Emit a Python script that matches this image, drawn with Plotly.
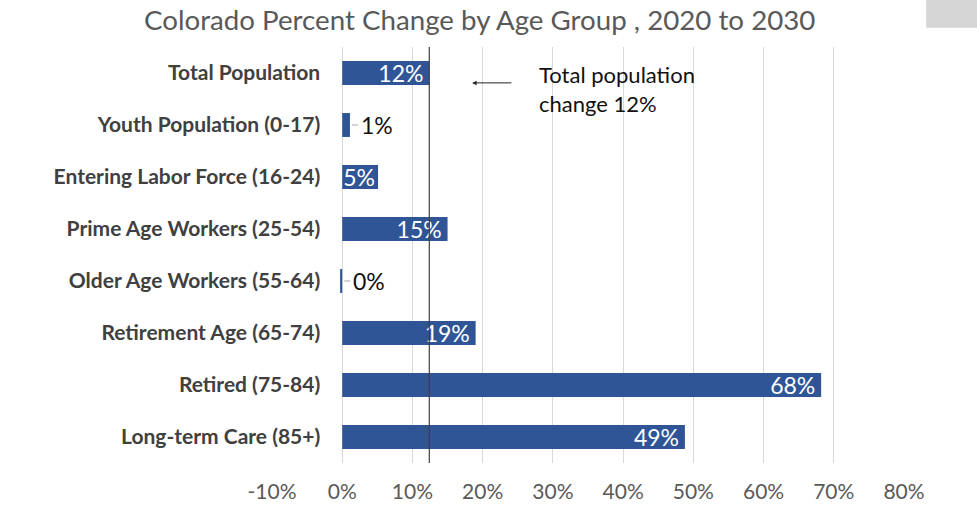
import plotly.graph_objects as go

categories = [
    "Total Population",
    "Youth Population (0-17)",
    "Entering Labor Force (16-24)",
    "Prime Age Workers (25-54)",
    "Older Age Workers (55-64)",
    "Retirement Age (65-74)",
    "Retired (75-84)",
    "Long-term Care (85+)",
]
pct_change = [12.4, 1.1, 5.1, 15.0, -0.3, 19.0, 68.2, 48.8]
label_inside = [True, False, True, True, False, True, True, True]
x_ticks = [-10, 0, 10, 20, 30, 40, 50, 60, 70, 80]
x_tick_labels = [f"{t}%" for t in x_ticks]
total_change = pct_change[0]

bar_color = "#2F5597"
font_family = "Lato, Open Sans, sans-serif"

labels = [f"{round(v)}%" for v in pct_change]

fig = go.Figure()
fig.add_trace(go.Bar(
    x=pct_change,
    y=categories,
    orientation="h",
    marker=dict(color=bar_color, line=dict(width=0)),
    width=0.46,
    text=[(l + "\u2009" if v > 10 else l) if ins else ""
          for l, v, ins in zip(labels, pct_change, label_inside)],
    textposition=["inside" if ins else "none" for ins in label_inside],
    insidetextanchor="end",
    insidetextfont=dict(color="white", size=23, family=font_family),
    textangle=0,
    constraintext="none",
    cliponaxis=False,
    hoverinfo="skip",
))

# outside labels with short leader lines
for cat, v, l, ins in zip(categories, pct_change, labels, label_inside):
    if ins:
        continue
    end = max(v, 0)
    fig.add_shape(type="line", xref="x", yref="y", xsizemode="pixel", xanchor=end,
                  x0=2, x1=8, y0=cat, y1=cat, line=dict(color="#a6a6a6", width=1))
    fig.add_annotation(xref="x", yref="y", x=end, y=cat, xanchor="left", yanchor="middle",
                       xshift=9, showarrow=False, text=l,
                       font=dict(size=23, color="#111111", family=font_family))

fig.add_shape(type="line", xref="x", yref="paper", x0=total_change, x1=total_change,
              y0=0, y1=1, line=dict(color="#404040", width=1.2), layer="above")

# arrow pointing to the total line
fig.add_annotation(xref="x", yref="y", x=18.5, y=0.19, ax=24.3, ay=0.19,
                   axref="x", ayref="y", showarrow=True, arrowhead=2, arrowsize=0.9,
                   arrowwidth=1, arrowcolor="#222222", text="")
fig.add_annotation(xref="x", yref="y", x=27.8, y=0.30, xanchor="left", yanchor="middle",
                   showarrow=False, align="left",
                   text="Total population<br>change 12%",
                   font=dict(size=22, color="#111111", family=font_family))

# small thumbnail box top right
fig.add_shape(type="rect", xref="paper", yref="paper", x0=1.035, x1=1.12, y0=1.046, y1=1.12,
              fillcolor="#d6d6d6", line=dict(width=0), layer="above")

fig.update_layout(
    width=977, height=508,
    paper_bgcolor="white", plot_bgcolor="white",
    margin=dict(l=272, r=73, t=47, b=45, autoexpand=False),
    showlegend=False,
    font=dict(family=font_family),
    title=dict(text="Colorado Percent Change by Age Group , 2020 to 2030",
               xref="container", yref="container", x=0.491, y=0.961,
               xanchor="center", yanchor="middle",
               font=dict(size=27.7, color="#595959", family=font_family)),
    xaxis=dict(range=[-10, 80], tickvals=x_ticks, ticktext=x_tick_labels,
               showgrid=True, gridcolor="#d9d9d9", gridwidth=1, zeroline=False,
               showline=False, ticks="", ticklabelstandoff=14, automargin=False,
               tickfont=dict(size=21, color="#595959", family=font_family)),
    yaxis=dict(autorange="reversed", anchor="free", position=1/9,
               showgrid=False, zeroline=False, showline=False, ticks="",
               ticklabelstandoff=22, automargin=False,
               tickfont=dict(size=21, color="#404040", family=font_family, weight="bold")),
)

fig.write_html("out.html", config={"displayModeBar": False},
               post_script="document.body.style.margin='0px';")
